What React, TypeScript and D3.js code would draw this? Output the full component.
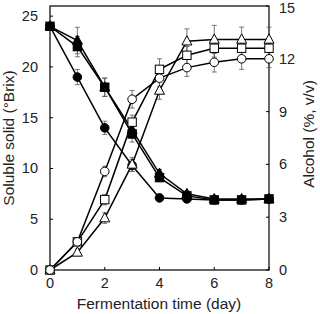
import React from 'react'
import * as d3 from 'd3'

// fermentation days
const days = [0, 1, 2, 3, 4, 5, 6, 7, 8]

// soluble solid (°Brix), filled markers, left axis
const brixCircle = [24, 19, 14, 10.3, 7.1, 7.0, 6.9, 6.9, 7.0]
const brixCircleErr = [0, 0.75, 0.65, 0.6, 0.3, 0.3, 0.2, 0.2, 0.2]
const brixTriangle = [24, 22.6, 18, 13.8, 9.5, 7.5, 7.0, 7.0, 7.0]
const brixTriangleErr = [0, 1.3, 0.9, 0.8, 0.4, 0.3, 0.2, 0.2, 0.2]
const brixSquare = [24, 22, 18, 13.4, 9.1, 7.3, 6.9, 6.9, 7.0]
const brixSquareErr = [0, 1.0, 0.9, 0.8, 0.4, 0.3, 0.2, 0.2, 0.2]

// alcohol (%, v/v), open markers, right axis
const alcCircle = [0, 1.6, 5.6, 9.7, 10.9, 11.5, 11.8, 12.0, 12.0]
const alcCircleErr = [0, 0.2, 0.3, 0.5, 0.5, 0.5, 0.55, 0.6, 0.5]
const alcSquare = [0, 1.6, 4.0, 8.4, 11.4, 12.2, 12.6, 12.6, 12.6]
const alcSquareErr = [0, 0.2, 0.3, 0.4, 0.6, 0.5, 0.5, 0.5, 0.5]
const alcTriangle = [0, 1.0, 2.95, 6.0, 10.2, 13.0, 13.1, 13.1, 13.1]
const alcTriangleErr = [0, 0.2, 0.3, 0.4, 0.5, 0.7, 0.8, 0.7, 0.7]

const xTicks = [0, 2, 4, 6, 8]
const brixTicks = [0, 5, 10, 15, 20, 25]
const alcTicks = [0, 3, 6, 9, 12, 15]

const W = 320
const H = 314
const left = 50
const right = 269
const top = 6
const bottom = 270
const font = 'Liberation Sans, Arial, sans-serif'
const ink = '#222'

type Shape = 'circle' | 'square' | 'triangle'

function Marker({ shape, x, y, filled }: { shape: Shape; x: number; y: number; filled: boolean }) {
  const fill = filled ? '#000' : '#fff'
  if (shape === 'circle') return <circle cx={x} cy={y} r={4.3} fill={fill} stroke="#000" strokeWidth={1} />
  if (shape === 'square') return <rect x={x - 4.2} y={y - 4.2} width={8.4} height={8.4} fill={fill} stroke="#000" strokeWidth={1} />
  const s = 5
  return <path d={`M${x},${y - s - 0.5}L${x + s},${y + s * 0.75}L${x - s},${y + s * 0.75}Z`} fill={fill} stroke="#000" strokeWidth={1} />
}

export default function App() {
  const x = d3.scaleLinear().domain([0, 8]).range([left, right])
  const yB = d3.scaleLinear().domain([0, 26]).range([bottom, top])
  const yA = d3.scaleLinear().domain([0, 15]).range([bottom, top])

  // brix first so the open alcohol markers sit on top
  const series = [
    { v: brixCircle, e: brixCircleErr, y: yB, shape: 'circle' as Shape, filled: true },
    { v: brixTriangle, e: brixTriangleErr, y: yB, shape: 'triangle' as Shape, filled: true },
    { v: brixSquare, e: brixSquareErr, y: yB, shape: 'square' as Shape, filled: true },
    { v: alcTriangle, e: alcTriangleErr, y: yA, shape: 'triangle' as Shape, filled: false },
    { v: alcSquare, e: alcSquareErr, y: yA, shape: 'square' as Shape, filled: false },
    { v: alcCircle, e: alcCircleErr, y: yA, shape: 'circle' as Shape, filled: false },
  ]

  const line = (ys: d3.ScaleLinear<number, number>) =>
    d3.line<number>().x((_, i) => x(days[i])).y((d) => ys(d))

  return (
    <svg width={W} height={H} style={{ position: 'absolute', left: 0, top: 0, background: '#fff' }} fontFamily={font}>
      {/* frame */}
      <rect x={left} y={top} width={right - left} height={bottom - top} fill="none" stroke="#000" strokeWidth={1.2} />

      {/* ticks */}
      {xTicks.map((t) => (
        <g key={'x' + t}>
          <line x1={x(t)} x2={x(t)} y1={bottom} y2={bottom - 3} stroke="#000" />
          <text x={x(t)} y={288} textAnchor="middle" fontSize={14.5} fill={ink}>{t}</text>
        </g>
      ))}
      {brixTicks.map((t) => (
        <g key={'b' + t}>
          <line x1={left} x2={left + 3} y1={yB(t)} y2={yB(t)} stroke="#000" />
          <text x={38} y={yB(t) + 5} textAnchor="end" fontSize={14.5} fill={ink}>{t}</text>
        </g>
      ))}
      {alcTicks.map((t) => (
        <g key={'a' + t}>
          <line x1={right - 3} x2={right} y1={yA(t)} y2={yA(t)} stroke="#000" />
          <text x={279} y={Math.max(yA(t) + 5, 13)} textAnchor="start" fontSize={14.5} fill={ink}>{t}</text>
        </g>
      ))}

      {/* axis titles */}
      <text x={W / 2 - 1} y={309} textAnchor="middle" fontSize={15.5} fill={ink}>Fermentation time (day)</text>
      <text transform={`translate(14,${(top + bottom) / 2}) rotate(-90)`} textAnchor="middle" fontSize={15.5} fill={ink}>Soluble solid (°Brix)</text>
      <text transform={`translate(314,${(top + bottom) / 2 - 4}) rotate(-90)`} textAnchor="middle" fontSize={15.5} fill={ink}>Alcohol (%, v/v)</text>

      {/* error bars */}
      {series.map((s, si) =>
        s.v.map((d, i) =>
          s.e[i] > 0 ? (
            <g key={`e${si}-${i}`} stroke="#555" strokeWidth={0.8}>
              <line x1={x(days[i])} x2={x(days[i])} y1={s.y(d - s.e[i])} y2={s.y(d + s.e[i])} />
              <line x1={x(days[i]) - 2.5} x2={x(days[i]) + 2.5} y1={s.y(d - s.e[i])} y2={s.y(d - s.e[i])} />
              <line x1={x(days[i]) - 2.5} x2={x(days[i]) + 2.5} y1={s.y(d + s.e[i])} y2={s.y(d + s.e[i])} />
            </g>
          ) : null
        )
      )}

      {/* lines */}
      {series.map((s, si) => (
        <path key={'l' + si} d={line(s.y)(s.v) || ''} fill="none" stroke="#000" strokeWidth={1.5} />
      ))}

      {/* markers */}
      {series.map((s, si) =>
        s.v.map((d, i) => (
          <Marker key={`m${si}-${i}`} shape={s.shape} x={x(days[i])} y={s.y(d)} filled={s.filled} />
        ))
      )}
    </svg>
  )
}
